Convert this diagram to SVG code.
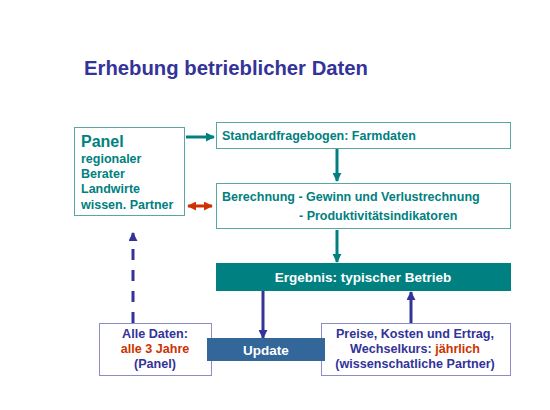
<svg xmlns="http://www.w3.org/2000/svg" width="550" height="410" viewBox="0 0 550 410">
<defs>
<style>
text{font-family:"Liberation Sans",Arial,sans-serif;font-weight:bold}
.teal{fill:#008080;font-size:12.5px}
.blue{fill:#333399;font-size:12.6px}
.red{fill:#cc3300}
.box{fill:#fff;stroke:#5aa6a4;stroke-width:1}
.pbox{fill:#fff;stroke:#8c8cc8;stroke-width:1}
</style>
<marker id="ht" viewBox="0 0 10 10" refX="9" refY="5" markerWidth="3" markerHeight="3" orient="auto"><path d="M0,0L10,5L0,10z" fill="#008080"/></marker>
<marker id="hb" viewBox="0 0 10 10" refX="9" refY="5" markerWidth="3" markerHeight="3" orient="auto"><path d="M0,0L10,5L0,10z" fill="#333399"/></marker>
<marker id="hr" viewBox="0 0 10 10" refX="9" refY="5" markerWidth="3" markerHeight="3" orient="auto-start-reverse"><path d="M0,0L10,5L0,10z" fill="#cc3300"/></marker>
</defs>
<rect width="550" height="410" fill="#fff"/>
<text x="84" y="75" style="font-size:20.3px;fill:#333399">Erhebung betrieblicher Daten</text>

<g id="connectors">
<line x1="186" y1="137" x2="214" y2="137" stroke="#008080" stroke-width="3" marker-end="url(#ht)"/>
<line x1="188" y1="206" x2="212" y2="206" stroke="#cc3300" stroke-width="3" marker-start="url(#hr)" marker-end="url(#hr)"/>
<line x1="337" y1="149" x2="337" y2="181" stroke="#008080" stroke-width="3" marker-end="url(#ht)"/>
<line x1="337" y1="230" x2="337" y2="262" stroke="#008080" stroke-width="3" marker-end="url(#ht)"/>
<line x1="263" y1="291" x2="263" y2="338" stroke="#333399" stroke-width="3" marker-end="url(#hb)"/>
<line x1="411" y1="323" x2="411" y2="292" stroke="#333399" stroke-width="3" marker-end="url(#hb)"/>
<line x1="133" y1="323" x2="133" y2="233" stroke="#333399" stroke-width="3" stroke-dasharray="11 10" marker-end="url(#hb)"/>
</g>

<g id="panel">
<rect class="box" x="74.5" y="127.5" width="110" height="88"/>
<text x="81" y="147" style="font-size:16px;fill:#008080">Panel</text>
<text class="teal" x="81" y="163">regionaler</text>
<text class="teal" x="81" y="178">Berater</text>
<text class="teal" x="81" y="193">Landwirte</text>
<text class="teal" x="81" y="209">wissen. Partner</text>
</g>

<g id="standard">
<rect class="box" x="216.5" y="122.5" width="294" height="26"/>
<text class="teal" x="222" y="140">Standardfragebogen: Farmdaten</text>
</g>

<g id="berechnung">
<rect class="box" x="216.5" y="183.5" width="294" height="45"/>
<text class="teal" x="222" y="201">Berechnung - Gewinn und Verlustrechnung</text>
<text class="teal" x="299" y="220">- Produktivitätsindikatoren</text>
</g>

<g id="ergebnis">
<rect x="216" y="263" width="295" height="28" fill="#008080"/>
<text x="363" y="282" text-anchor="middle" style="font-size:13.5px;fill:#fff">Ergebnis: typischer Betrieb</text>
</g>

<g id="alledaten">
<rect class="pbox" x="99.5" y="323.5" width="112" height="52"/>
<text class="blue" x="155" y="338" text-anchor="middle">Alle Daten:</text>
<text class="blue red" x="155" y="353" text-anchor="middle">alle 3 Jahre</text>
<text class="blue" x="155" y="368" text-anchor="middle">(Panel)</text>
</g>

<g id="preise">
<rect class="pbox" x="321.5" y="323.5" width="189" height="52"/>
<text class="blue" x="415" y="338" text-anchor="middle">Preise, Kosten und Ertrag,</text>
<text class="blue" x="415" y="353" text-anchor="middle">Wechselkurs: <tspan fill="#cc3300">jährlich</tspan></text>
<text class="blue" x="415" y="368" text-anchor="middle">(wissenschatliche Partner)</text>
</g>

<g id="update">
<rect x="207" y="338" width="118" height="23" fill="#336699"/>
<text x="266" y="355" text-anchor="middle" style="font-size:13.5px;fill:#fff">Update</text>
</g>
</svg>
